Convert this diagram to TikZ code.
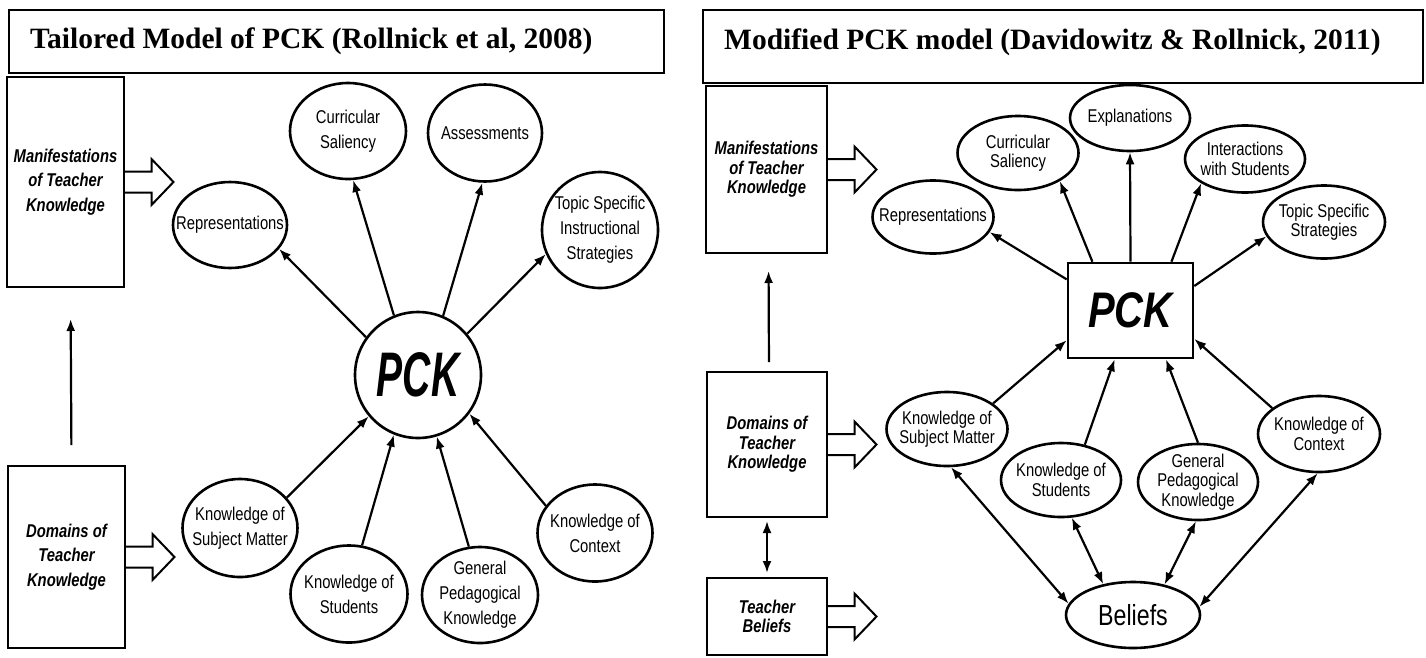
\documentclass[tikz,border=0pt]{standalone}
\usepackage{fontspec}
\setmainfont{Liberation Serif}
\newfontfamily\LabelFont[FakeStretch=0.8]{Liberation Sans}
\newfontfamily\PCKFont[FakeStretch=0.62]{Liberation Sans}
\usepackage{tikz}
\usetikzlibrary{shapes}
\usetikzlibrary{arrows.meta}
\tikzstyle{Box}=[draw,line width=2pt,inner sep=0pt]
\tikzstyle{Title}=[font=\fontsize{29.5}{32}\selectfont\bfseries,inner sep=0pt]
\tikzstyle{BoxText}=[font=\LabelFont\fontsize{18.5}{24.5}\selectfont\bfseries\itshape,align=center]
\tikzstyle{BoxTextR}=[font=\LabelFont\fontsize{18.5}{19.5}\selectfont\bfseries\itshape,align=center]
\tikzstyle{Bubble}=[ellipse,draw,line width=2.6pt,inner sep=0pt]
\tikzstyle{Txt}=[font=\LabelFont\fontsize{18.5}{25}\selectfont,align=center,inner sep=0pt]
\tikzstyle{TxtR}=[font=\LabelFont\fontsize{18.5}{19.5}\selectfont,align=center,inner sep=0pt]
\tikzstyle{Edge}=[draw,line width=2.2pt,-{Latex[length=12pt,width=9pt]}]
\tikzstyle{Both}=[draw,line width=2.2pt,{Latex[length=12pt,width=9pt]}-{Latex[length=12pt,width=9pt]}]
\tikzstyle{Hollow}=[draw,line width=2pt,line join=miter]
\newcommand{\HollowArrow}[1]{\draw[Hollow]([yshift=10.5pt]#1.east)--++(26.5,0)--++(0,-12.5)
  --++(22,23)--++(-22,23)--++(0,-12.5)--++(-26.5,0);}

\begin{document}
\begin{tikzpicture}[x=1pt,y=-1pt]
        \useasboundingbox(0,0)rectangle(1426,657);
        % tailored model
        \node[Box,minimum width=655pt,minimum height=63pt](headL)at(336.5,41.5){};
        \node[Title,anchor=base west](titleL)at(30,48){Tailored Model of PCK (Rollnick et al, 2008)};
        \node[Box,BoxText,minimum width=117pt,minimum height=210pt](manL)at(65.5,182){Manifestations\\of Teacher\\Knowledge};
        \node[Box,BoxText,minimum width=117pt,minimum height=182pt](domL)at(66.5,557){Domains of\\Teacher\\Knowledge};
        \HollowArrow{manL}
        \HollowArrow{domL}
        \draw[Edge,shorten <=20pt,shorten >=31pt]([xshift=5pt]domL.north)--([xshift=5pt]manL.south);
        \node[circle,draw,line width=2.6pt,inner sep=0pt,minimum size=126pt](pckL)at(418,375){\PCKFont\fontsize{63}{63}\selectfont\bfseries\itshape PCK};
        \node[Bubble,minimum width=114pt,minimum height=86pt,label={[Txt]center:Representations}](repL)at(230,225){};
        \node[Bubble,minimum width=116pt,minimum height=96pt,label={[Txt]center:Curricular\\Saliency}](curL)at(348,131){};
        \node[Bubble,minimum width=114pt,minimum height=97pt,label={[Txt]center:Assessments}](assL)at(485,133){};
        \node[Bubble,minimum width=116pt,minimum height=116pt,label={[Txt]center:Topic Specific\\Instructional\\Strategies}](topL)at(600,230){};
        \node[Bubble,minimum width=115pt,minimum height=98pt,label={[Txt]center:Knowledge of\\Subject Matter}](ksmL)at(240,528){};
        \node[Bubble,minimum width=117pt,minimum height=97pt,label={[Txt]center:Knowledge of\\Students}](kstL)at(349,594){};
        \node[Bubble,minimum width=116pt,minimum height=96pt,label={[Txt]center:General\\Pedagogical\\Knowledge}](gpkL)at(480,595){};
        \node[Bubble,minimum width=115pt,minimum height=97pt,label={[Txt]center:Knowledge of\\Context}](kcL)at(595,533){};
        \draw[Edge](pckL.144)--(repL.-26);
        \draw[Edge](pckL.112)--(curL.-84);
        \draw[Edge](pckL.67)--(assL.-93);
        \draw[Edge](pckL.40)--(topL.-156);
        \draw[Edge](ksmL.33)--(pckL.-140);
        \draw[Edge](kstL.75)--(pckL.-112);
        \draw[Edge](gpkL.103)--(pckL.-73);
        \draw[Edge](kcL.151)--(pckL.-37);
        % modified model
        \node[Box,minimum width=720pt,minimum height=73pt](headR)at(1063,46.5){};
        \node[Title,anchor=base west](titleR)at(724,49){Modified PCK model (Davidowitz \& Rollnick, 2011)};
        \node[Box,BoxTextR,minimum width=121pt,minimum height=167pt](manR)at(766.5,169.5){Manifestations\\of Teacher\\Knowledge};
        \node[Box,BoxTextR,minimum width=120pt,minimum height=145pt](domR)at(767,444.5){Domains of\\Teacher\\Knowledge};
        \node[Box,BoxTextR,minimum width=120pt,minimum height=77pt](tbR)at(767,616.5){Teacher\\Beliefs};
        \HollowArrow{manR}
        \HollowArrow{domR}
        \HollowArrow{tbR}
        \draw[Edge,shorten <=9pt,shorten >=17pt]([xshift=2pt]domR.north)--([xshift=2pt]manR.south);
        \draw[Both,shorten <=3pt,shorten >=4pt](domR.south)--(tbR.north);
        \node[Box,line width=2.6pt,minimum width=125pt,minimum height=95pt](pckR)at(1130.5,310.5){\LabelFont\fontsize{50}{50}\selectfont\bfseries\itshape PCK};
        \node[Bubble,minimum width=120pt,minimum height=66pt,label={[TxtR]center:Explanations}](expR)at(1130,118){};
        \node[Bubble,minimum width=121pt,minimum height=74pt,label={[TxtR]center:Curricular\\Saliency}](curR)at(1018,153){};
        \node[Bubble,minimum width=120pt,minimum height=67pt,label={[TxtR]center:Interactions\\with Students}](intR)at(1245,159){};
        \node[Bubble,minimum width=121pt,minimum height=73pt,label={[TxtR]center:Representations}](repR)at(933,217){};
        \node[Bubble,minimum width=122pt,minimum height=73pt,label={[TxtR]center:Topic Specific\\Strategies}](topR)at(1324,222){};
        \node[Bubble,minimum width=121pt,minimum height=74pt,label={[TxtR]center:Knowledge of\\Subject Matter}](ksmR)at(947,429){};
        \node[Bubble,minimum width=120pt,minimum height=74pt,label={[TxtR]center:Knowledge of\\Students}](kstR)at(1061,480){};
        \node[Bubble,minimum width=120pt,minimum height=76pt,label={[TxtR]center:General\\Pedagogical\\Knowledge}](gpkR)at(1198,482){};
        \node[Bubble,minimum width=122pt,minimum height=76pt,label={[TxtR]center:Knowledge of\\Context}](kcR)at(1319,434){};
        \node[Bubble,minimum width=134pt,minimum height=66pt,label={[font=\LabelFont\fontsize{29}{30}\selectfont,inner sep=0pt]center:Beliefs}](belR)at(1133,615){};
        \draw[Edge](pckR.154)--(repR.-15);
        \draw[Edge](pckR.128)--(curR.-34);
        \draw[Edge](pckR.north)--(expR.south);
        \draw[Edge](pckR.50)--(intR.-151);
        \draw[Edge](pckR.21)--(topR.-166);
        \draw[Edge](ksmR.29)--(pckR.-155);
        \draw[Edge](kstR.56)--(pckR.-108);
        \draw[Edge](gpkR.90)--(pckR.-54);
        \draw[Edge](kcR.151)--(pckR.-24);
        \draw[Both](ksmR.-84)--(belR.170);
        \draw[Both](kstR.-74)--(belR.134);
        \draw[Both](gpkR.-93)--(belR.44);
        \draw[Both](kcR.-92)--(belR.7);
    \end{tikzpicture}
\end{document}
